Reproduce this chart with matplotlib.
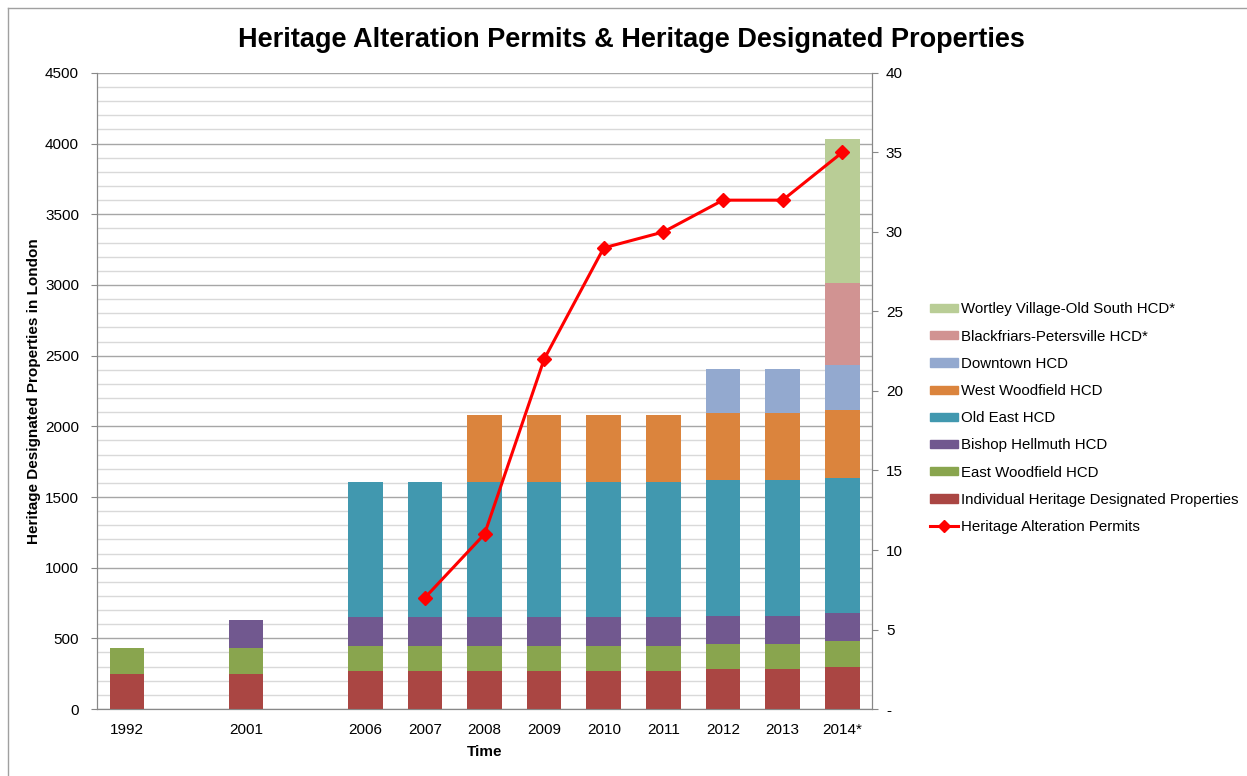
"""Heritage alteration permits and designated properties, stacked bars + permit line."""

import matplotlib

matplotlib.use("Agg")

import matplotlib.pyplot as plt
from matplotlib.lines import Line2D
from matplotlib.patches import Patch
import numpy as np

plt.rcParams["font.family"] = ["Liberation Sans", "DejaVu Sans"]

# slots with empty string are gaps on the category axis
years = ["1992", "", "2001", "", "2006", "2007", "2008", "2009", "2010",
         "2011", "2012", "2013", "2014*"]

individual = [250, 0, 250, 0, 272, 272, 272, 272, 272, 272, 282, 282, 300]
east_woodfield = [180, 0, 180, 0, 177, 177, 177, 177, 177, 177, 178, 178, 180]
bishop_hellmuth = [0, 0, 200, 0, 200, 200, 200, 200, 200, 200, 200, 200, 200]
old_east = [0, 0, 0, 0, 957, 957, 957, 957, 957, 957, 960, 960, 952]
west_woodfield = [0, 0, 0, 0, 0, 0, 474, 474, 474, 474, 474, 474, 482]
downtown = [0, 0, 0, 0, 0, 0, 0, 0, 0, 0, 312, 312, 318]
blackfriars = [0, 0, 0, 0, 0, 0, 0, 0, 0, 0, 0, 0, 580]
wortley = [0, 0, 0, 0, 0, 0, 0, 0, 0, 0, 0, 0, 1020]

permits = [None, None, None, None, None, 7, 11, 22, 29, 30, 32, 32, 35]

series = [
    ("Individual Heritage Designated Properties", individual, "#AA4643"),
    ("East Woodfield HCD", east_woodfield, "#89A54E"),
    ("Bishop Hellmuth HCD", bishop_hellmuth, "#71588F"),
    ("Old East HCD", old_east, "#4198AF"),
    ("West Woodfield HCD", west_woodfield, "#DB843D"),
    ("Downtown HCD", downtown, "#93A9CF"),
    ("Blackfriars-Petersville HCD*", blackfriars, "#D19392"),
    ("Wortley Village-Old South HCD*", wortley, "#B9CD96"),
]

fig = plt.figure(figsize=(12.47, 7.76), dpi=100)
ax = fig.add_axes([0.0778, 0.0863, 0.6215, 0.8197])

x = np.arange(len(years))
bottom = np.zeros(len(years))
for label, values, color in series:
    vals = np.array(values, dtype=float)
    ax.bar(x, vals, width=0.58, bottom=bottom, color=color, label=label, zorder=3)
    bottom += vals

ax.set_xlim(-0.5, len(years) - 0.5)
ax.set_ylim(0, 4500)
ax.set_yticks(np.arange(0, 4501, 500))
ax.set_yticks(np.arange(0, 4501, 100), minor=True)
ax.yaxis.grid(True, which="major", color="#a6a6a6", linewidth=1.0, zorder=0)
ax.yaxis.grid(True, which="minor", color="#d9d9d9", linewidth=1.0, zorder=0)
ax.tick_params(axis="y", which="minor", length=0)
ax.tick_params(axis="y", which="major", length=4, pad=9, color="#888888",
               labelsize=11)
ax.set_xticks(x)
ax.set_xticklabels(years, fontsize=11)
ax.tick_params(axis="x", length=0, pad=10)
ax.spines["top"].set_visible(False)
for side in ["left", "bottom", "right"]:
    ax.spines[side].set_color("#888888")
ax.set_ylabel("Heritage Designated Properties in London", fontsize=11,
              fontweight="bold", labelpad=3)
ax.set_xlabel("Time", fontsize=11, fontweight="bold", labelpad=6)

ax2 = ax.twinx()
px = [i for i, v in enumerate(permits) if v is not None]
py = [v for v in permits if v is not None]
ax2.plot(px, py, color="#FF0000", linewidth=2.2, marker="D", markersize=7,
         zorder=5)
ax2.set_ylim(0, 40)
ax2.set_yticks(np.arange(0, 41, 5))
ax2.set_yticklabels(["-"] + [str(v) for v in range(5, 41, 5)])
ax2.tick_params(axis="y", length=4, color="#888888", labelsize=11, pad=6)
ax2.spines["top"].set_visible(False)
for side in ["left", "bottom", "right"]:
    ax2.spines[side].set_color("#888888")

fig.suptitle("Heritage Alteration Permits & Heritage Designated Properties",
             x=0.506, y=0.965, fontsize=19.5, fontweight="bold")

handles = [Patch(color=c) for _, _, c in reversed(series)]
labels = [name for name, _, _ in reversed(series)]
handles.append(Line2D([], [], color="#FF0000", linewidth=2.2, marker="D",
                      markersize=6))
labels.append("Heritage Alteration Permits")
fig.legend(handles, labels, loc="center left", bbox_to_anchor=(0.741, 0.461),
           frameon=False, fontsize=10.8, handlelength=1.85, handleheight=0.45,
           handletextpad=0.2, labelspacing=0.88, borderaxespad=0.0)

# chart-area border (only top and left edges show in the crop)
fig.add_artist(Line2D([0.0064, 1.0], [0.9897, 0.9897], color="#a0a0a0",
                      linewidth=1, transform=fig.transFigure))
fig.add_artist(Line2D([0.0064, 0.0064], [0.0, 0.9897], color="#a0a0a0",
                      linewidth=1, transform=fig.transFigure))

fig.savefig("out.png", dpi=100)
plt.close(fig)
